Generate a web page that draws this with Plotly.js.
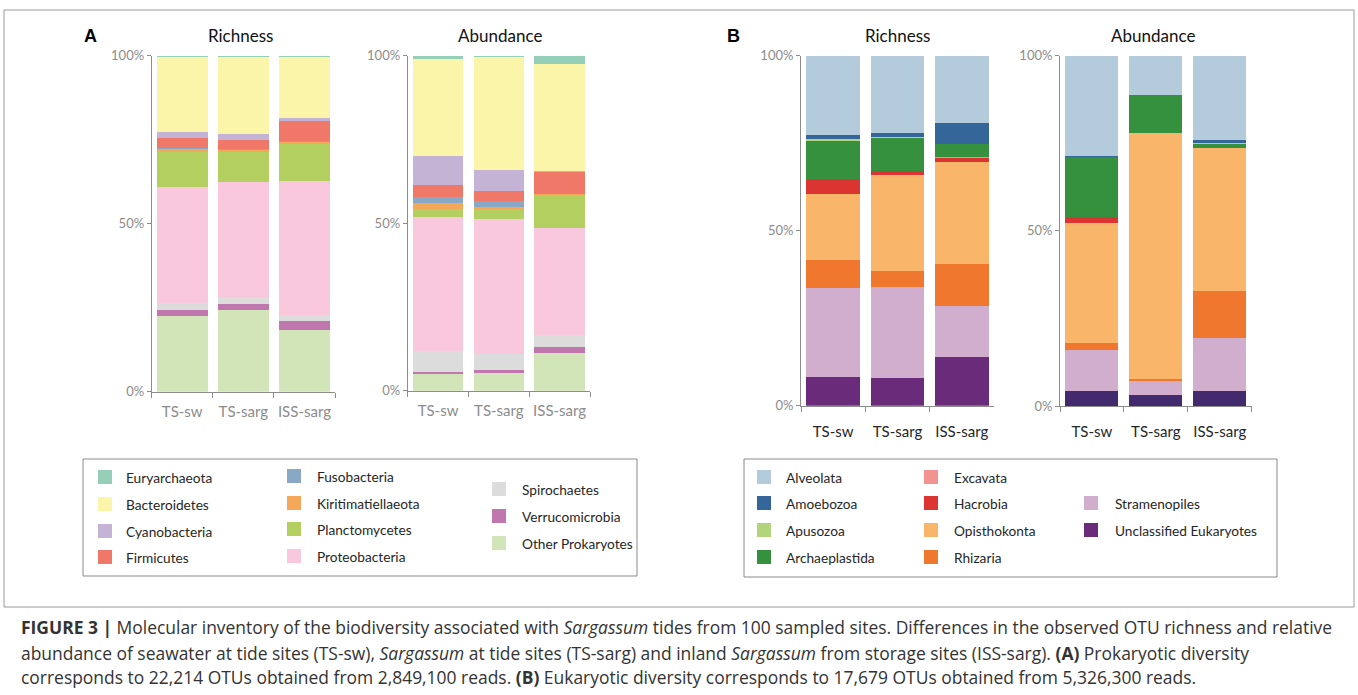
<!DOCTYPE html>
<html>
<head>
<meta charset="utf-8">
<script src="https://cdn.plot.ly/plotly-3.0.1.min.js"></script>
<style>
  html, body { margin: 0; padding: 0; background: #ffffff; }
  #chart { width: 1358px; height: 695px; }
</style>
</head>
<body>
<div id="chart"></div>
<script>
// ---------------- DATA ----------------
const sites = ['TS-sw', 'TS-sarg', 'ISS-sarg'];

// Prokaryote taxa, listed bottom-to-top of the stack
const prokTaxa = ['Other Prokaryotes', 'Verrucomicrobia', 'Spirochaetes', 'Proteobacteria',
  'Planctomycetes', 'Kiritimatiellaeota', 'Fusobacteria', 'Firmicutes', 'Cyanobacteria',
  'Bacteroidetes', 'Euryarchaeota'];
const prokColors = ['#d2e5b8', '#c077ad', '#dcdcdc', '#f9c8dc', '#b2cf60', '#f6a85a',
  '#89a8c6', '#ef7868', '#c4b3d4', '#fbf5a9', '#95cfb7'];
// % per site (TS-sw, TS-sarg, ISS-sarg), rows follow prokTaxa
const prokRichness = [
  [22.6, 24.3, 18.4],
  [1.8, 1.8, 2.6],
  [1.9, 2.0, 1.8],
  [34.7, 34.3, 39.9],
  [10.4, 8.9, 11.1],
  [0.7, 0.7, 0.6],
  [0.3, 0.3, 0.1],
  [3.2, 2.5, 6.2],
  [1.8, 1.8, 0.7],
  [22.1, 22.9, 18.1],
  [0.5, 0.5, 0.5]
];
const prokAbundance = [
  [4.9, 5.3, 11.2],
  [0.8, 0.9, 1.7],
  [6.1, 4.9, 3.6],
  [40.1, 40.2, 32.1],
  [2.4, 2.8, 9.8],
  [1.7, 0.6, 0.2],
  [1.9, 1.9, 0.0],
  [3.6, 3.1, 6.8],
  [8.7, 6.3, 0.2],
  [28.8, 33.6, 32.0],
  [1.0, 0.4, 2.4]
];

// Eukaryote taxa, bottom-to-top
const eukTaxa = ['Unclassified Eukaryotes', 'Stramenopiles', 'Rhizaria', 'Opisthokonta',
  'Hacrobia', 'Excavata', 'Archaeplastida', 'Apusozoa', 'Amoebozoa', 'Alveolata'];
const eukColors = ['#6a2b7b', '#d2aece', '#ef782e', '#f9b56a', '#dc3430', '#f29391',
  '#36913e', '#b2d47c', '#356699', '#b3cbdb'];
const eukAbundColors = ['#43296e', '#d2aece', '#ef782e', '#f9b56a', '#dc3430', '#f29391',
  '#36913e', '#b2d47c', '#356699', '#b3cbdb'];
const eukRichness = [
  [8.1, 7.8, 13.8],
  [25.6, 26.2, 14.8],
  [8.0, 4.6, 11.8],
  [18.8, 27.2, 29.3],
  [4.2, 1.2, 1.2],
  [0.2, 0.1, 0.1],
  [10.7, 9.3, 3.7],
  [0.5, 0.4, 0.1],
  [1.2, 1.1, 5.9],
  [22.7, 22.1, 19.3]
];
const eukAbundance = [
  [4.3, 3.0, 4.2],
  [11.6, 4.1, 15.3],
  [2.2, 0.6, 13.4],
  [34.0, 70.3, 40.8],
  [1.8, 0.0, 0.0],
  [0.0, 0.0, 0.0],
  [17.1, 10.7, 1.0],
  [0.0, 0.0, 0.3],
  [0.5, 0.0, 0.9],
  [28.5, 11.3, 24.1]
];

// Legend layout (taxon names per column, as in the figure)
const prokLegendCols = [
  ['Euryarchaeota', 'Bacteroidetes', 'Cyanobacteria', 'Firmicutes'],
  ['Fusobacteria', 'Kiritimatiellaeota', 'Planctomycetes', 'Proteobacteria'],
  ['Spirochaetes', 'Verrucomicrobia', 'Other Prokaryotes']
];
const eukLegendCols = [
  ['Alveolata', 'Amoebozoa', 'Apusozoa', 'Archaeplastida'],
  ['Excavata', 'Hacrobia', 'Opisthokonta', 'Rhizaria'],
  ['Stramenopiles', 'Unclassified Eukaryotes']
];

const panelTitles = ['Richness', 'Abundance', 'Richness', 'Abundance'];
const captionLines = [
  '<b>FIGURE 3 |</b> Molecular inventory of the biodiversity associated with <i>Sargassum</i> tides from 100 sampled sites. Differences in the observed OTU richness and relative',
  'abundance of seawater at tide sites (TS-sw), <i>Sargassum</i> at tide sites (TS-sarg) and inland <i>Sargassum</i> from storage sites (ISS-sarg). <b>(A)</b> Prokaryotic diversity',
  'corresponds to 22,214 OTUs obtained from 2,849,100 reads. <b>(B)</b> Eukaryotic diversity corresponds to 17,679 OTUs obtained from 5,326,300 reads.'
];

// ---------------- LAYOUT HELPERS ----------------
const W = 1358, H = 695;
const px = x => x / W;
const py = y => 1 - y / H;
const FONT = 'Lato, "Open Sans", sans-serif';
const AXC = '#8c8c8c';

const traces = [];
function addStack(taxa, colors, values, xa, ya) {
  taxa.forEach((name, i) => {
    traces.push({
      type: 'bar', name: name, x: sites, y: values[i],
      xaxis: xa, yaxis: ya,
      marker: { color: colors[i], line: { width: 0 } },
      hoverinfo: 'skip', showlegend: false
    });
  });
}
addStack(prokTaxa, prokColors, prokRichness, 'x', 'y');
addStack(prokTaxa, prokColors, prokAbundance, 'x2', 'y2');
addStack(eukTaxa, eukColors, eukRichness, 'x3', 'y3');
addStack(eukTaxa, eukAbundColors, eukAbundance, 'x4', 'y4');

function xAxis(x0, x1, anchor, color, standoff) {
  return {
    domain: [px(x0), px(x1)], anchor: anchor, type: 'category',
    showline: true, linecolor: AXC, linewidth: 1,
    ticks: 'outside', tickson: 'boundaries', ticklen: 5, tickcolor: AXC,
    tickangle: 0,
    tickfont: { family: FONT, size: 15, color: color },
    ticklabelstandoff: standoff,
    showgrid: false, zeroline: false, fixedrange: true
  };
}
function yAxis(y0, y1, anchor) {
  return {
    domain: [py(y1), py(y0)], anchor: anchor, range: [0, 100],
    tickvals: [0, 50, 100], ticktext: ['0%', '50%', '100%'],
    showline: true, linecolor: AXC, linewidth: 1,
    ticks: 'outside', ticklen: 4, tickcolor: AXC,
    tickfont: { family: FONT, size: 13, color: AXC },
    showgrid: false, zeroline: false, fixedrange: true
  };
}

const shapes = [];
const annotations = [];

// outer frame
shapes.push({ type: 'rect', xref: 'paper', yref: 'paper',
  x0: px(4), x1: px(1354), y0: py(607), y1: py(10),
  line: { color: '#9a9a9a', width: 1 } });

// panel titles
const titlePos = [240, 500, 897, 1153];
panelTitles.forEach((t, i) => {
  annotations.push({ text: t, xref: 'paper', yref: 'paper', x: px(titlePos[i]), y: py(35),
    xanchor: 'center', yanchor: 'middle', showarrow: false,
    font: { family: FONT, size: 17, color: '#111' } });
});
// panel letters
[['A', 90], ['B', 733]].forEach(([t, x]) => {
  annotations.push({ text: '<b>' + t + '</b>', xref: 'paper', yref: 'paper', x: px(x), y: py(36),
    xanchor: 'center', yanchor: 'middle', showarrow: false,
    font: { family: 'Liberation Sans, Arial, sans-serif', size: 18, color: '#000' } });
});

// legends
function buildLegend(box, cols, taxa, colors, sqX, txX, rowsY) {
  shapes.push({ type: 'rect', xref: 'paper', yref: 'paper',
    x0: px(box[0]), x1: px(box[2]), y0: py(box[3]), y1: py(box[1]),
    line: { color: '#8a8a8a', width: 1 } });
  cols.forEach((col, c) => {
    col.forEach((name, r) => {
      const yc = rowsY[c][r];
      const color = colors[taxa.indexOf(name)];
      shapes.push({ type: 'rect', xref: 'paper', yref: 'paper',
        x0: px(sqX[c]), x1: px(sqX[c] + 14), y0: py(yc + 7), y1: py(yc - 7),
        fillcolor: color, line: { width: 0 } });
      annotations.push({ text: name, xref: 'paper', yref: 'paper', x: px(txX[c]), y: py(yc),
        xanchor: 'left', yanchor: 'middle', showarrow: false,
        font: { family: FONT, size: 13.7, color: '#262626' } });
    });
  });
}
buildLegend([83, 459, 637, 576], prokLegendCols, prokTaxa, prokColors,
  [98, 287, 492], [124, 315, 520],
  [[477, 504, 531, 557], [476, 503, 529, 556], [489, 516, 543]]);
buildLegend([744, 459, 1277, 577], eukLegendCols, eukTaxa, eukColors,
  [757, 924, 1084], [784, 952, 1113],
  [[477, 503, 530, 557], [477, 503, 530, 557], [503, 530]]);

// caption
const capY = [627, 653, 677];
captionLines.forEach((t, i) => {
  annotations.push({ text: t, xref: 'paper', yref: 'paper', x: px(19), y: py(capY[i]),
    xanchor: 'left', yanchor: 'middle', showarrow: false,
    font: { family: '"Open Sans", sans-serif', size: 17.45, color: '#333' } });
});

const layout = {
  width: W, height: H,
  margin: { l: 0, r: 0, t: 0, b: 0, pad: 0 },
  paper_bgcolor: '#ffffff', plot_bgcolor: '#ffffff',
  barmode: 'stack', bargap: 0.17,
  showlegend: false, hovermode: false,
  xaxis: xAxis(151.7, 335, 'y', '#8c8c8c', 6),
  yaxis: yAxis(55.7, 391.7, 'x'),
  xaxis2: xAxis(407.7, 590, 'y2', '#8c8c8c', 6),
  yaxis2: yAxis(55.7, 390.7, 'x2'),
  xaxis3: xAxis(801, 994, 'y3', '#262626', 12),
  yaxis3: yAxis(55.7, 405.7, 'x3'),
  xaxis4: xAxis(1060, 1251.7, 'y4', '#262626', 12),
  yaxis4: yAxis(55.7, 406, 'x4'),
  shapes: shapes,
  annotations: annotations
};

Plotly.newPlot('chart', traces, layout, { displayModeBar: false, staticPlot: true });
</script>
</body>
</html>
